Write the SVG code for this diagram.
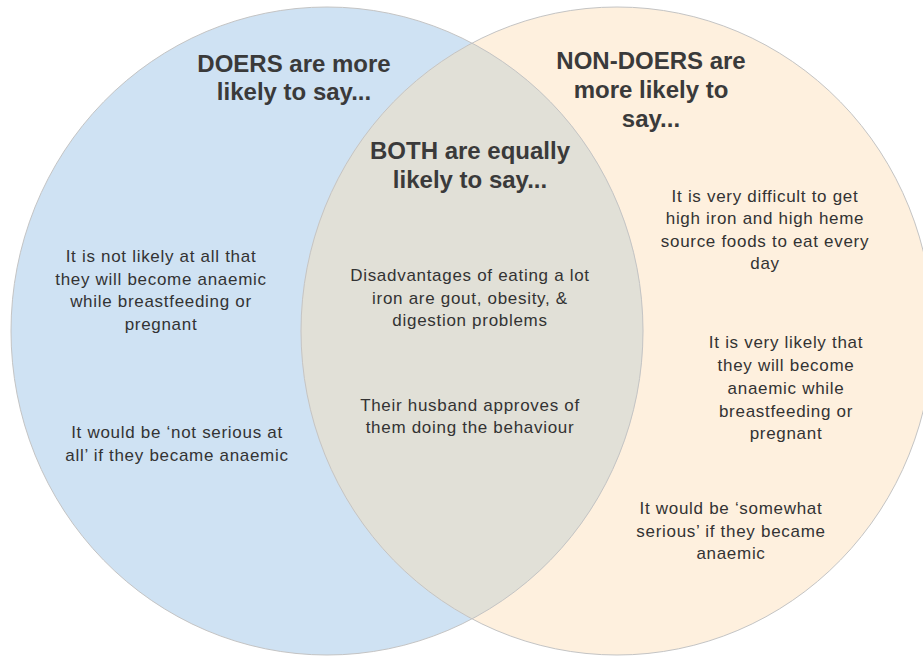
<svg xmlns="http://www.w3.org/2000/svg" width="923" height="656" viewBox="0 0 923 656">
<style>
.title{font-family:"Liberation Sans",Arial,sans-serif;font-weight:bold;font-size:24px;fill:#3a3a3a;text-anchor:middle}
.body{font-family:"Liberation Sans",Arial,sans-serif;font-size:17px;letter-spacing:0.7px;fill:#333333;text-anchor:middle}
.edge{fill:none;stroke:#c4c4c4;stroke-width:1}
</style>
<rect width="923" height="656" fill="#ffffff"/>
<g id="doers-circle">
<ellipse cx="327" cy="331" rx="316" ry="324" fill="#cfe2f3"/>
</g>
<g id="nondoers-circle">
<ellipse cx="617" cy="331" rx="316" ry="324" fill="#fef0de"/>
</g>
<g id="both-overlap">
<path d="M472,43 A316,324 0 0,0 472,619 A316,324 0 0,0 472,43 Z" fill="#e1e0d7"/>
</g>
<g id="outlines">
<ellipse class="edge" cx="327" cy="331" rx="316" ry="324"/>
<ellipse class="edge" cx="617" cy="331" rx="316" ry="324"/>
</g>
<g id="connectors"></g>
<g id="doers-title">
<text class="title" x="294" y="72">DOERS are more</text>
<text class="title" x="294" y="100">likely to say...</text>
</g>
<g id="nondoers-title">
<text class="title" x="651" y="69">NON-DOERS are</text>
<text class="title" x="651" y="98">more likely to</text>
<text class="title" x="651" y="127">say...</text>
</g>
<g id="both-title">
<text class="title" x="470" y="159">BOTH are equally</text>
<text class="title" x="470" y="188">likely to say...</text>
</g>
<g id="doers-item-1">
<text class="body" x="161" y="262">It is not likely at all that</text>
<text class="body" x="161" y="284.5">they will become anaemic</text>
<text class="body" x="161" y="307">while breastfeeding or</text>
<text class="body" x="161" y="329.5">pregnant</text>
</g>
<g id="doers-item-2">
<text class="body" x="177" y="438">It would be ‘not serious at</text>
<text class="body" x="177" y="461">all’ if they became anaemic</text>
</g>
<g id="both-item-1">
<text class="body" x="470" y="281">Disadvantages of eating a lot</text>
<text class="body" x="470" y="303.5">iron are gout, obesity, &amp;</text>
<text class="body" x="470" y="326">digestion problems</text>
</g>
<g id="both-item-2">
<text class="body" x="470" y="410.5">Their husband approves of</text>
<text class="body" x="470" y="433">them doing the behaviour</text>
</g>
<g id="nondoers-item-1">
<text class="body" x="765" y="201.5">It is very difficult to get</text>
<text class="body" x="765" y="224">high iron and high heme</text>
<text class="body" x="765" y="246.5">source foods to eat every</text>
<text class="body" x="765" y="269">day</text>
</g>
<g id="nondoers-item-2">
<text class="body" x="786" y="348">It is very likely that</text>
<text class="body" x="786" y="371">they will become</text>
<text class="body" x="786" y="394">anaemic while</text>
<text class="body" x="786" y="416.5">breastfeeding or</text>
<text class="body" x="786" y="439">pregnant</text>
</g>
<g id="nondoers-item-3">
<text class="body" x="731" y="514">It would be ‘somewhat</text>
<text class="body" x="731" y="536.5">serious’ if they became</text>
<text class="body" x="731" y="559">anaemic</text>
</g>
</svg>
